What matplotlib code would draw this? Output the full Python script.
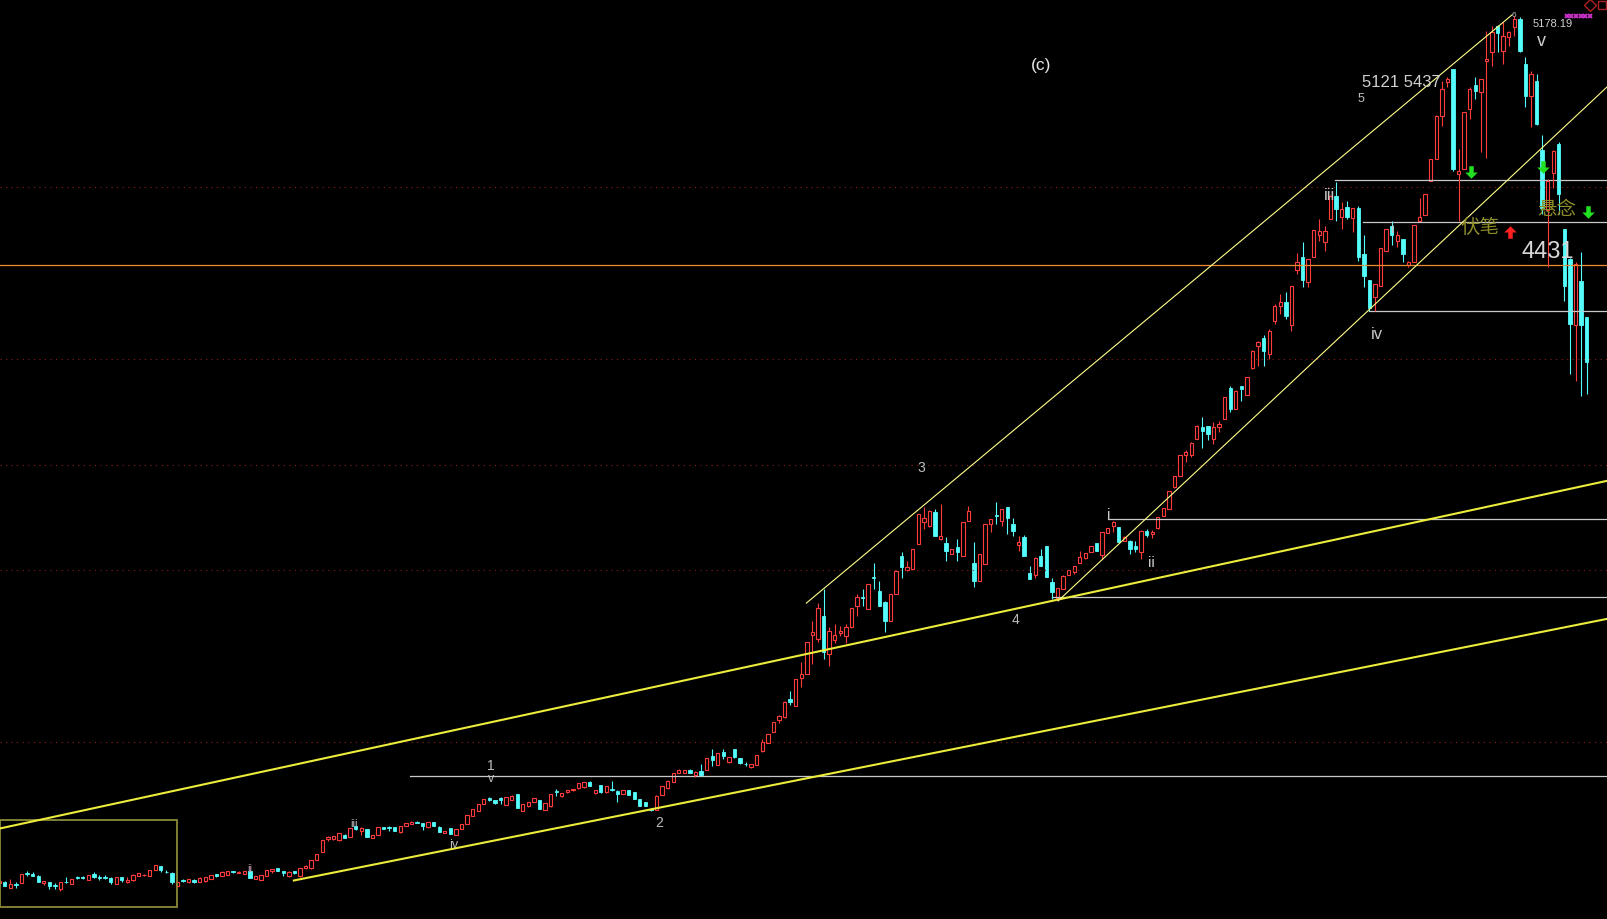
import numpy as np
import matplotlib
matplotlib.use("Agg")
import matplotlib.pyplot as plt
from matplotlib.path import Path

plt.rcParams['font.family'] = ['Liberation Sans', 'Noto Sans CJK SC', 'DejaVu Sans']

# daily candles, first one is the cut-off bar at the left edge
opens = [
    2018, 2023, 2001, 2013, 2018, 2055, 2051, 2043, 2018, 2020,
    2009, 1996, 2022, 2014, 2041, 2041, 2030, 2052, 2039, 2039,
    2036, 2014, 2039, 2020, 2029, 2045, 2046, 2045, 2066, 2079,
    2059, 2054, 2006, 2030, 2020, 2030, 2023, 2026, 2032, 2049,
    2045, 2047, 2062, 2054, 2052, 2063, 2032, 2030, 2045, 2061,
    2071, 2062, 2042, 2060, 2042, 2071, 2071, 2102, 2132, 2180,
    2180, 2174, 2193, 2187, 2224, 2208, 2214, 2183, 2193, 2221,
    2223, 2221, 2202, 2227, 2233, 2241, 2235, 2221, 2239, 2223,
    2201, 2217, 2193, 2214, 2233, 2263, 2281, 2306, 2328, 2321,
    2326, 2302, 2321, 2342, 2281, 2297, 2314, 2320, 2284, 2297,
    2352, 2336, 2348, 2355, 2363, 2366, 2387, 2345, 2375, 2348,
    2360, 2354, 2342, 2357, 2348, 2324, 2312, 2289, 2285, 2338,
    2363, 2387, 2418, 2420, 2431, 2411, 2427, 2431, 2482, 2448,
    2494, 2458, 2506, 2472, 2452, 2439, 2448, 2500, 2528, 2569,
    2613, 2622, 2688, 2664, 2764, 2780, 2922, 2907, 2992, 2852,
    2905, 2928, 2919, 2950, 3028, 3060, 3016, 3132, 3081, 3041,
    2974, 3071, 3211, 3160, 3162, 3253, 3332, 3318, 3369, 3271,
    3257, 3217, 3241, 3211, 3338, 3186, 3120, 3180, 3326, 3358,
    3338, 3387, 3326, 3250, 3280, 3148, 3140, 3211, 3247, 3116,
    3055, 3089, 3141, 3150, 3184, 3201, 3226, 3257, 3214, 3293,
    3320, 3314, 3266, 3266, 3248, 3223, 3302, 3290, 3310, 3357,
    3381, 3460, 3502, 3578, 3578, 3638, 3679, 3682, 3638, 3681,
    3709, 3821, 3745, 3828, 3796, 3894, 3974, 4003, 3946, 4068,
    4122, 4135, 4053, 4254, 4299, 4207, 4299, 4378, 4353, 4438,
    4523, 4444, 4481, 4441, 4477, 4311, 4214, 4153, 4195, 4323,
    4414, 4359, 4366, 4271, 4283, 4432, 4453, 4578, 4657, 4815,
    4936, 4985, 4602, 4620, 4839, 4927, 4900, 5015, 5046, 5143,
    5052, 5100, 5137, 5167, 5003, 4888, 4942, 4690, 4471, 4604,
    4711, 4402, 4292, 4050, 4213, 4080,
]
highs = [
    2027, 2025, 2033, 2020, 2052, 2061, 2057, 2046, 2026, 2022,
    2018, 2021, 2041, 2034, 2043, 2043, 2048, 2057, 2047, 2047,
    2038, 2040, 2041, 2039, 2049, 2054, 2050, 2067, 2084, 2080,
    2065, 2059, 2024, 2032, 2033, 2031, 2038, 2041, 2048, 2050,
    2060, 2063, 2063, 2060, 2063, 2064, 2043, 2048, 2066, 2070,
    2072, 2063, 2060, 2062, 2072, 2082, 2103, 2125, 2176, 2188,
    2189, 2201, 2195, 2220, 2226, 2221, 2216, 2194, 2222, 2223,
    2227, 2223, 2225, 2236, 2242, 2243, 2237, 2240, 2241, 2224,
    2209, 2218, 2215, 2234, 2267, 2288, 2307, 2325, 2332, 2322,
    2330, 2331, 2337, 2343, 2307, 2313, 2327, 2321, 2310, 2343,
    2360, 2347, 2356, 2361, 2383, 2386, 2388, 2358, 2376, 2371,
    2391, 2356, 2358, 2358, 2349, 2325, 2313, 2291, 2337, 2373,
    2392, 2419, 2432, 2431, 2433, 2425, 2451, 2473, 2506, 2493,
    2506, 2477, 2507, 2473, 2460, 2452, 2485, 2543, 2562, 2604,
    2629, 2680, 2719, 2762, 2822, 2898, 2974, 3040, 3089, 2950,
    2962, 2956, 2962, 3020, 3071, 3089, 3108, 3186, 3120, 3046,
    3072, 3157, 3223, 3192, 3236, 3364, 3387, 3376, 3381, 3399,
    3278, 3236, 3271, 3333, 3393, 3259, 3218, 3327, 3345, 3405,
    3382, 3388, 3350, 3284, 3285, 3174, 3205, 3237, 3248, 3128,
    3093, 3139, 3159, 3175, 3229, 3222, 3247, 3258, 3297, 3313,
    3336, 3315, 3281, 3267, 3265, 3303, 3308, 3305, 3352, 3385,
    3446, 3502, 3579, 3597, 3626, 3686, 3715, 3685, 3699, 3703,
    3789, 3831, 3813, 3831, 3862, 3959, 3994, 4015, 4037, 4128,
    4165, 4173, 4194, 4314, 4353, 4293, 4399, 4438, 4414, 4524,
    4574, 4499, 4505, 4480, 4487, 4378, 4215, 4202, 4332, 4403,
    4432, 4396, 4367, 4286, 4417, 4513, 4530, 4658, 4816, 4942,
    4954, 4986, 4693, 4828, 4918, 4954, 4949, 5125, 5143, 5144,
    5155, 5124, 5178.19, 5174, 5027, 4979, 4967, 4745, 4584, 4691,
    4720, 4403, 4297, 4280, 4317, 4081,
]
lows = [
    2016, 2006, 2000, 2000, 2016, 2045, 2042, 2020, 2011, 1996,
    1996, 1989, 2019, 2013, 2033, 2034, 2029, 2036, 2030, 2033,
    2013, 2013, 2020, 2019, 2026, 2044, 2045, 2044, 2065, 2059,
    2053, 2014, 2004, 2022, 2019, 2018, 2022, 2022, 2031, 2038,
    2044, 2046, 2054, 2053, 2049, 2035, 2031, 2029, 2044, 2054,
    2062, 2045, 2041, 2049, 2041, 2070, 2070, 2101, 2130, 2172,
    2176, 2172, 2181, 2185, 2212, 2193, 2186, 2181, 2192, 2213,
    2209, 2207, 2200, 2225, 2232, 2235, 2212, 2220, 2225, 2204,
    2199, 2195, 2192, 2213, 2232, 2262, 2280, 2305, 2318, 2306,
    2306, 2301, 2320, 2292, 2280, 2296, 2313, 2286, 2283, 2296,
    2336, 2330, 2347, 2354, 2362, 2365, 2372, 2343, 2347, 2347,
    2354, 2312, 2341, 2337, 2323, 2299, 2299, 2280, 2284, 2337,
    2362, 2386, 2417, 2419, 2418, 2405, 2409, 2430, 2445, 2447,
    2470, 2457, 2475, 2451, 2445, 2438, 2447, 2496, 2527, 2568,
    2601, 2621, 2667, 2663, 2731, 2779, 2816, 2895, 2834, 2810,
    2892, 2919, 2892, 2949, 2992, 3028, 3015, 3089, 3028, 2934,
    2973, 3070, 3128, 3156, 3161, 3252, 3308, 3317, 3283, 3269,
    3192, 3216, 3192, 3210, 3337, 3095, 3119, 3179, 3296, 3326,
    3320, 3290, 3284, 3229, 3210, 3126, 3131, 3173, 3135, 3053,
    3053, 3088, 3140, 3144, 3183, 3198, 3225, 3228, 3199, 3292,
    3296, 3262, 3265, 3217, 3225, 3199, 3278, 3277, 3309, 3355,
    3380, 3458, 3501, 3551, 3569, 3637, 3602, 3634, 3618, 3660,
    3708, 3736, 3744, 3776, 3795, 3893, 3903, 3901, 3927, 4056,
    4092, 4074, 4031, 4238, 4189, 4189, 4298, 4359, 4323, 4437,
    4432, 4402, 4438, 4390, 4286, 4189, 4104, 4104, 4194, 4322,
    4344, 4335, 4280, 4262, 4282, 4430, 4452, 4577, 4655, 4778,
    4920, 4614, 4432, 4619, 4803, 4875, 4681, 4660, 4997, 5046,
    5003, 5070, 5106, 5046, 4845, 4772, 4779, 4456, 4264, 4552,
    4456, 4141, 3873, 3849, 3794, 3800,
]
closes = [
    2026, 2008, 2014, 2011, 2051, 2052, 2045, 2023, 2025, 2006,
    2006, 2020, 2020, 2033, 2035, 2035, 2047, 2041, 2036, 2035,
    2023, 2039, 2030, 2030, 2048, 2053, 2048, 2066, 2083, 2064,
    2057, 2023, 2023, 2025, 2032, 2023, 2037, 2038, 2047, 2045,
    2059, 2062, 2058, 2059, 2062, 2036, 2042, 2047, 2065, 2069,
    2063, 2054, 2059, 2055, 2071, 2081, 2102, 2124, 2175, 2184,
    2188, 2199, 2183, 2219, 2214, 2217, 2187, 2193, 2221, 2215,
    2219, 2208, 2224, 2235, 2241, 2237, 2227, 2239, 2227, 2205,
    2208, 2196, 2214, 2233, 2266, 2287, 2306, 2324, 2322, 2309,
    2321, 2330, 2336, 2293, 2306, 2312, 2326, 2287, 2309, 2342,
    2348, 2346, 2355, 2360, 2382, 2385, 2373, 2355, 2348, 2370,
    2356, 2342, 2357, 2338, 2324, 2300, 2300, 2285, 2336, 2372,
    2391, 2418, 2431, 2429, 2419, 2424, 2411, 2472, 2467, 2492,
    2482, 2476, 2476, 2455, 2450, 2451, 2484, 2530, 2561, 2603,
    2628, 2679, 2676, 2761, 2780, 2897, 2934, 3022, 2858, 2937,
    2922, 2937, 2950, 3019, 3059, 3058, 3107, 3130, 3028, 2974,
    3071, 3156, 3168, 3168, 3235, 3363, 3350, 3375, 3284, 3281,
    3229, 3235, 3223, 3332, 3375, 3120, 3217, 3326, 3344, 3354,
    3381, 3350, 3302, 3262, 3211, 3126, 3201, 3174, 3135, 3077,
    3092, 3138, 3157, 3174, 3205, 3221, 3245, 3229, 3296, 3311,
    3335, 3262, 3280, 3235, 3235, 3302, 3286, 3296, 3351, 3384,
    3445, 3500, 3578, 3587, 3620, 3685, 3666, 3654, 3679, 3691,
    3788, 3745, 3812, 3818, 3861, 3958, 3991, 3958, 4031, 4122,
    4135, 4086, 4193, 4283, 4217, 4292, 4398, 4396, 4396, 4523,
    4475, 4475, 4444, 4477, 4299, 4232, 4112, 4201, 4331, 4402,
    4378, 4378, 4311, 4280, 4416, 4444, 4529, 4657, 4815, 4912,
    4948, 4620, 4614, 4827, 4912, 4906, 4948, 5021, 5118, 5116,
    5106, 5118, 5167, 5052, 4888, 4967, 4785, 4478, 4576, 4687,
    4530, 4195, 4056, 4274, 4050, 3916,
]

# drawn studies (bar index, price)
trend_thick = [([-1, 290], [2216, 3494]), ([51.9, 290], [2027, 2990])]
trend_thin = [([143.9, 270.6], [3038, 5182]), ([189.1, 290], [3046, 4964])]
level_starts = [72.8, 188.0, 198.1, 238.8, 243.8, 245.0]
level_prices = [2407, 3059, 3345, 4579, 4426, 4102]
grid_prices = [4554, 3927, 3541, 3159, 2531]
orange_price = 4270
box_x = [-0.86, 30.86]
box_y = [1930, 2248]

wave_labels = [
    ("(c)", 186.0, 5001, 12.5, '#e6e6e6'),
    ("5121 5437", 250.7, 4941, 12, '#cfcfcf'),
    ("5", 243.5, 4879, 9, '#bdbdbd'),
    ("5178.19", 277.9, 5152, 8, '#d0d0d0'),
    ("v", 275.8, 5087, 13, '#d0d0d0'),
    ("iii", 237.9, 4529, 12, '#c8c8c8'),
    ("i", 249.2, 4405, 11, '#c8c8c8'),
    ("iv", 246.4, 4019, 12, '#c8c8c8'),
    ("4431", 277.1, 4321, 17, '#d8d8d8'),
    ("3", 164.5, 3534, 10, '#bdbdbd'),
    ("4", 181.4, 2980, 10, '#bdbdbd'),
    ("i", 198.1, 3363, 11, '#c8c8c8'),
    ("ii", 205.8, 3188, 11, '#c8c8c8'),
    ("1", 87.3, 2447, 10, '#bdbdbd'),
    ("v", 87.3, 2401, 9, '#bdbdbd'),
    ("2", 117.4, 2240, 10, '#bdbdbd'),
    ("iii", 62.7, 2237, 8, '#bdbdbd'),
    ("iv", 80.6, 2160, 9, '#bdbdbd'),
    ("ii", 44.0, 2074, 8, '#c0a0b0'),
]
cjk_labels = [("伏笔", 264.9, 4409), ("悬念", 278.7, 4478)]
down_arrows = [(263.2, 4609), (276.2, 4628), (284.2, 4464)]
up_arrows = [(270.2, 4391)]

UP = '#ff3c3c'
DOWN = '#54fcfc'

fig = plt.figure(figsize=(16.07, 9.2), dpi=100, facecolor='black')
ax = fig.add_axes([0, 0, 1, 1])
ax.set_facecolor('black')
ax.set_xlim(-0.86, 287.65)
ax.set_ylim(1886.6, 5240)
ax.axis('off')

o = np.array(opens, float)
h = np.array(highs, float)
l = np.array(lows, float)
c = np.array(closes, float)
x = np.arange(len(o)) - 1
up = c >= o
dn = ~up
w = 0.6

# grid and levels underneath
for p in grid_prices:
    ax.axhline(p, color='#8b1c1c', lw=0.8, ls=(0, (1, 4)))
ax.axhline(orange_price, color='#f08a2a', lw=0.9)
for s, p in zip(level_starts, level_prices):
    ax.plot([s, 290], [p, p], color='#c8c8c8', lw=0.9)

# candles
ax.vlines(x[dn], l[dn], h[dn], color=DOWN, lw=0.8)
ax.bar(x[dn], c[dn] - o[dn], bottom=o[dn], width=w, color=DOWN, edgecolor=DOWN, lw=0.6)
ax.vlines(x[up], l[up], o[up], color=UP, lw=0.8)
ax.vlines(x[up], c[up], h[up], color=UP, lw=0.8)
ax.bar(x[up], c[up] - o[up], bottom=o[up], width=w, facecolor='black', edgecolor=UP, lw=0.8)

# trend lines
for xs, ys in trend_thick:
    ax.plot(xs, ys, color='#ecec3c', lw=1.5)
for xs, ys in trend_thin:
    ax.plot(xs, ys, color='#ffff88', lw=0.8)

ax.add_patch(plt.Rectangle((box_x[0], box_y[0]), box_x[1] - box_x[0], box_y[1] - box_y[0],
                           fill=False, edgecolor='#8a8a36', lw=1.3))

for txt, xi, yp, fs, col in wave_labels:
    ax.text(xi, yp, txt, color=col, fontsize=fs, ha='center', va='center')
for txt, xi, yp in cjk_labels:
    ax.text(xi, yp, txt, color='#8c8c28', fontsize=14, ha='center', va='center',
            family=['Noto Sans CJK SC', 'DejaVu Sans'])

arrow = Path([(-0.18, 0.5), (0.18, 0.5), (0.18, 0.0), (0.5, 0.0), (0.0, -0.5),
              (-0.5, 0.0), (-0.18, 0.0), (-0.18, 0.5)])
arrow_up = Path([(vx, -vy) for vx, vy in arrow.vertices])
for xi, yp in down_arrows:
    ax.plot(xi, yp, marker=arrow, color='#22e022', ms=9, mew=0)
for xi, yp in up_arrows:
    ax.plot(xi, yp, marker=arrow_up, color='#ff2020', ms=9, mew=0)

# corner icons
ax.plot(np.linspace(280.4, 284.6, 6), [5178] * 6, 'x', color='#c830c8', ms=3.5, mew=1.4)
ax.plot(284.6, 5219, marker='D', ms=6, mfc='none', mec='#b02020', mew=1)
ax.plot(286.7, 5219, marker='s', ms=6, mfc='none', mec='#b02020', mew=1)
ax.text(270.9, 5183, "6", color='#bdbdbd', fontsize=6, ha='center', va='center')

fig.savefig('out.png', dpi=100, facecolor='black')
